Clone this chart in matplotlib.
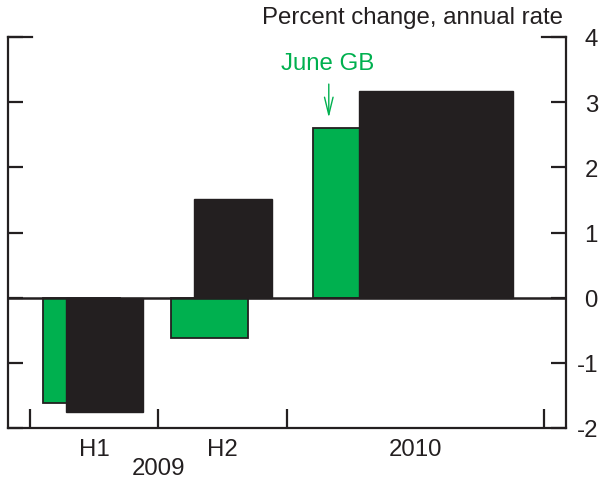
import matplotlib
matplotlib.use("Agg")
import matplotlib.pyplot as plt
from matplotlib.transforms import blended_transform_factory
from matplotlib.lines import Line2D

plt.rcParams['font.family'] = ['Liberation Sans', 'DejaVu Sans']
plt.rcParams['axes.unicode_minus'] = False

# Data (x in quarters from start of 2009)
period_start = [0, 2, 4]
period_len = [2, 2, 4]
green_vals = [-1.61, -0.62, 2.60]   # June GB
black_vals = [-1.76, 1.51, 3.17]    # current
period_labels = ["H1", "H2", "2010"]
year_label = "2009"
yticks = [-2, -1, 0, 1, 2, 3, 4]
xtick_pos = [0, 2, 4, 8]

GREEN = "#00b04f"
DARK = "#231f20"
FS = 17.3

fig = plt.figure(figsize=(6.01, 4.81), dpi=100)
ax = fig.add_axes([8/601, (481-429)/481, 558/601, 391/481])

for s, L, g, b in zip(period_start, period_len, green_vals, black_vals):
    c = s + L/2
    w = 0.6 * L
    ax.bar(c - 0.1*L, g, width=w, color=GREEN, edgecolor=DARK, linewidth=1.3, zorder=2)
    ax.bar(c + 0.08*L, b, width=w, color=DARK, edgecolor=DARK, linewidth=1.0, zorder=3)

ax.axhline(0, color=DARK, linewidth=1.8, zorder=4)

ax.set_xlim(-0.34, 8.34)
ax.set_ylim(-2, 4)

ax.spines['top'].set_visible(False)
for sp in ['left', 'right', 'bottom']:
    ax.spines[sp].set_color(DARK)
    ax.spines[sp].set_linewidth(1.6)

ax.set_xticks(xtick_pos)
ax.set_xticklabels([])
ax.tick_params(axis='x', direction='in', length=13.5, width=1.6, color=DARK)

ax.set_yticks(yticks)
ax.yaxis.set_ticks_position('both')
ax.tick_params(axis='y', direction='in', length=11, width=1.6, color=DARK,
               labelleft=False, labelright=True, labelsize=FS, pad=23,
               labelcolor=DARK)
for lbl in ax.get_yticklabels():
    lbl.set_horizontalalignment('right')

# longer top ticks at 4
ax.add_line(Line2D([0, 24/558], [1, 1], transform=ax.transAxes, color=DARK,
                   linewidth=1.6, clip_on=False))
ax.add_line(Line2D([1 - 24/558, 1], [1, 1], transform=ax.transAxes, color=DARK,
                   linewidth=1.6, clip_on=False))

trans = blended_transform_factory(ax.transData, ax.transAxes)
for s, L, lab in zip(period_start, period_len, period_labels):
    ax.text(s + L/2, -21/391, lab, transform=trans, ha='center', va='center',
            fontsize=FS, color=DARK)
ax.text(2, -40/391, year_label, transform=trans, ha='center', va='center',
        fontsize=FS, color=DARK)

fig.text(563/601, 1 - 18/481, "Percent change, annual rate", ha='right', va='center',
         fontsize=FS, color=DARK)

# June GB annotation
ax.annotate("", xy=(4.65, green_vals[2] + 0.12), xytext=(4.65, 3.32),
            arrowprops=dict(arrowstyle='->,head_length=0.9,head_width=0.22',
                            color=GREEN, lw=1.0, mutation_scale=14), zorder=5)
ax.text(4.63, 3.6, "June GB", ha='center', va='center', fontsize=FS, color=GREEN)

fig.savefig("out.png", dpi=100)
